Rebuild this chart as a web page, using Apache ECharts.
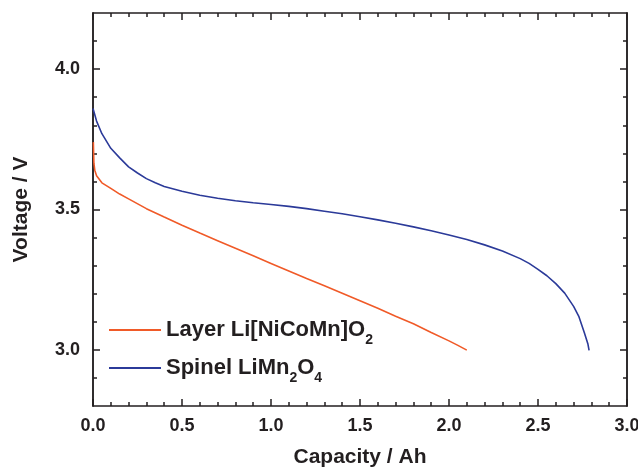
<!DOCTYPE html>
<html>
<head>
<meta charset="utf-8">
<script src="https://cdn.jsdelivr.net/npm/echarts@6/dist/echarts.min.js"></script>
<style>html,body{margin:0;padding:0;background:#fff}#c{width:638px;height:468px}</style>
</head>
<body>
<div id="c"></div>
<script>
// ---- data ----
const seriesNames = ['Layer Li[NiCoMn]O2', 'Spinel LiMn2O4'];

const layerCapacity = [0.002, 0.005, 0.01, 0.02, 0.05, 0.1, 0.15, 0.2, 0.3, 0.4, 0.5, 0.6, 0.7, 0.8, 0.9, 1.0, 1.1, 1.2, 1.3, 1.4, 1.5, 1.6, 1.7, 1.8, 1.9, 2.0, 2.05, 2.1];
const layerVoltage  = [3.74, 3.665, 3.640, 3.620, 3.595, 3.575, 3.555, 3.538, 3.503, 3.473, 3.444, 3.416, 3.389, 3.362, 3.335, 3.308, 3.281, 3.254, 3.228, 3.202, 3.175, 3.148, 3.120, 3.093, 3.062, 3.032, 3.016, 2.999];

const spinelCapacity = [0.0, 0.02, 0.05, 0.1, 0.15, 0.2, 0.25, 0.3, 0.35, 0.4, 0.5, 0.6, 0.7, 0.8, 0.9, 1.0, 1.1, 1.2, 1.3, 1.4, 1.5, 1.6, 1.7, 1.8, 1.9, 2.0, 2.1, 2.2, 2.3, 2.4, 2.45, 2.5, 2.55, 2.6, 2.65, 2.7, 2.73, 2.76, 2.78, 2.787];
const spinelVoltage  = [3.860, 3.815, 3.770, 3.718, 3.684, 3.652, 3.630, 3.610, 3.595, 3.582, 3.565, 3.551, 3.540, 3.531, 3.524, 3.518, 3.511, 3.503, 3.494, 3.485, 3.474, 3.463, 3.451, 3.438, 3.424, 3.409, 3.393, 3.374, 3.352, 3.325, 3.308, 3.287, 3.264, 3.236, 3.202, 3.155, 3.118, 3.062, 3.022, 2.998];

const xTickLabels = [0.0, 0.5, 1.0, 1.5, 2.0, 2.5, 3.0];
const yMajorTicks = [3.0, 3.5, 4.0];
const yMinorTicks = [2.9, 3.1, 3.2, 3.3, 3.4, 3.6, 3.7, 3.8, 3.9, 4.1];

// ---- chart ----
const FONT = "'Liberation Sans', Arial, Helvetica, sans-serif";
const AX = '#231f20';
const layerColor = '#f05a28';
const spinelColor = '#2b3a99';

const layerData = layerCapacity.map((c, i) => [c, layerVoltage[i]]);
const spinelData = spinelCapacity.map((c, i) => [c, spinelVoltage[i]]);

const axLine = {show: true, onZero: false, lineStyle: {color: AX, width: 1.5}};
const labelStyle = {fontSize: 18, fontWeight: 'bold', fontFamily: FONT, color: AX};
const titleStyle = {fontSize: 21, fontWeight: 'bold', fontFamily: FONT, color: AX};

function xAx(pos, withLabels) {
  return {
    type: 'value', position: pos, min: 0, max: 3, interval: 0.5,
    axisLine: axLine,
    axisTick: {show: true, inside: true, length: 7, lineStyle: {color: AX, width: 1.5}},
    minorTick: {show: true, splitNumber: 5, length: 4, lineStyle: {color: AX, width: 1.5}},
    splitLine: {show: false}, minorSplitLine: {show: false},
    axisLabel: withLabels ? Object.assign({show: true, margin: 11, formatter: v => (xTickLabels.indexOf(v) >= 0 ? v.toFixed(1) : '')}, labelStyle) : {show: false},
    name: withLabels ? 'Capacity / Ah' : '',
    nameLocation: 'middle', nameGap: 41, nameTextStyle: titleStyle
  };
}
function yAx(pos, ticks, len, withLabels) {
  return {
    type: 'value', position: pos, min: 2.8, max: 4.2,
    axisLine: axLine,
    axisTick: {show: true, inside: true, length: len, customValues: ticks, lineStyle: {color: AX, width: 1.5}},
    splitLine: {show: false},
    axisLabel: withLabels ? Object.assign({show: true, margin: 13, customValues: yMajorTicks, formatter: v => v.toFixed(1)}, labelStyle) : {show: false},
    name: withLabels ? 'Voltage / V' : '',
    nameLocation: 'middle', nameGap: 61, nameRotate: 90, nameTextStyle: titleStyle
  };
}

const chart = echarts.init(document.getElementById('c'), null, {renderer: 'canvas'});
chart.setOption({
  animation: false,
  backgroundColor: '#ffffff',
  grid: {left: 93, right: 11, top: 13, bottom: 62, containLabel: false, outerBoundsMode: 'none'},
  xAxis: [xAx('bottom', true), xAx('top', false)],
  yAxis: [yAx('left', yMajorTicks, 7, true), yAx('left', yMinorTicks, 4, false),
          yAx('right', yMajorTicks, 7, false), yAx('right', yMinorTicks, 4, false)],
  legend: {
    orient: 'vertical', left: 109, top: 319, padding: 0, itemGap: 10,
    itemWidth: 52, itemHeight: 2, icon: 'rect',
    data: seriesNames,
    formatter: name => name === seriesNames[0]
      ? '{a|Layer Li[NiCoMn]O}{s|2}'
      : '{a|Spinel LiMn}{s|2}{a|O}{s|4}',
    textStyle: {
      rich: {
        a: {fontSize: 22, fontWeight: 'bold', fontFamily: FONT, color: AX, lineHeight: 34},
        s: {fontSize: 14, fontWeight: 'bold', fontFamily: FONT, color: AX, lineHeight: 14, verticalAlign: 'bottom'}
      }
    }
  },
  series: [
    {name: seriesNames[0], type: 'line', xAxisIndex: 0, yAxisIndex: 0, data: layerData,
     showSymbol: false, symbol: 'none', color: layerColor, lineStyle: {color: layerColor, width: 1.6}},
    {name: seriesNames[1], type: 'line', xAxisIndex: 0, yAxisIndex: 0, data: spinelData,
     showSymbol: false, symbol: 'none', color: spinelColor, lineStyle: {color: spinelColor, width: 1.6}}
  ]
});
</script>
</body>
</html>
